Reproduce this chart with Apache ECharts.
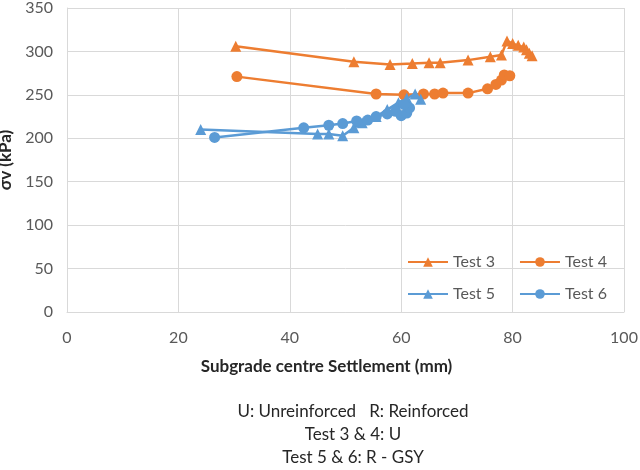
<!DOCTYPE html>
<html>
<head>
<meta charset="utf-8">
<script src="https://cdn.jsdelivr.net/npm/echarts@6/dist/echarts.min.js"></script>
<style>
  html, body { margin: 0; padding: 0; background: #fff; }
  #chart { width: 640px; height: 470px; }
</style>
</head>
<body>
<div id="chart"></div>
<script>
// Subgrade centre settlement (mm) vs vertical stress (kPa), one [x, y] pair per reading
const test3 = [[30.3,306],[51.5,288],[58,285],[62,286],[65,287],[67,287],[72,290],[76,294],[78,296],[79,312],[80,309],[81,307],[82,305],[82.5,302],[83,298],[83.5,295]];
const test4 = [[30.5,271],[55.5,251],[60.5,250],[64,251],[66,251],[67.5,252],[72,252],[75.5,257],[77,262],[78,267],[78.5,273],[79.5,272]];
const test5 = [[24,210],[45,205],[47,205],[49.5,203],[51.5,212],[53,218],[55.5,225],[57.5,233],[59.5,241],[61,246],[62.5,251],[63.5,245]];
const test6 = [[26.5,201],[42.5,212],[47,215],[49.5,217],[52,220],[54,221],[55.5,225],[57.5,228],[59,231],[60,226],[61,229],[61.5,235],[60.5,239]];

const xTicks = { min: 0, max: 100, interval: 20 };
const yTicks = { min: 0, max: 350, interval: 50 };

const seriesNames = ['Test 3', 'Test 4', 'Test 5', 'Test 6'];
const noteLines = ['U: Unreinforced   R: Reinforced', 'Test 3 & 4: U', 'Test 5 & 6: R - GSY'];

const ORANGE = '#ED7D31';
const BLUE = '#5B9BD5';
const FONT = 'Lato, "Open Sans", sans-serif';

function lineSeries(name, data, color, symbol, size) {
  return {
    name: name,
    type: 'line',
    data: data,
    color: color,
    symbol: symbol,
    symbolSize: size,
    showAllSymbol: true,
    lineStyle: { width: 2.5, color: color },
    itemStyle: { color: color },
    emphasis: { disabled: true },
    animation: false
  };
}

const legendText = { fontFamily: FONT, fontSize: 16, color: '#595959' };

const chart = echarts.init(document.getElementById('chart'), null, { renderer: 'canvas' });
chart.setOption({
  backgroundColor: '#fff',
  animation: false,
  grid: { left: 67, right: 16, top: 8, bottom: 158, containLabel: false, outerBoundsMode: 'none' },
  xAxis: {
    type: 'value',
    min: xTicks.min, max: xTicks.max, interval: xTicks.interval,
    name: 'Subgrade centre Settlement (mm)',
    nameLocation: 'middle',
    nameGap: 46,
    nameTextStyle: { fontFamily: FONT, fontSize: 17, fontWeight: 'bold', color: '#262626', padding: [0, 38, 0, 0] },
    axisLine: { show: true, lineStyle: { color: '#d9d9d9', width: 1 } },
    axisTick: { show: false },
    axisLabel: { fontFamily: FONT, fontSize: 16, color: '#595959', margin: 18 },
    splitLine: { show: true, lineStyle: { color: '#d9d9d9', width: 1 } }
  },
  yAxis: {
    type: 'value',
    min: yTicks.min, max: yTicks.max, interval: yTicks.interval,
    name: 'σv (kPa)',
    nameLocation: 'middle',
    nameGap: 41,
    nameRotate: 90,
    nameTextStyle: { fontFamily: FONT, fontSize: 17, fontWeight: 'bold', color: '#262626' },
    axisLine: { show: true, lineStyle: { color: '#d9d9d9', width: 1 } },
    axisTick: { show: false },
    axisLabel: { fontFamily: FONT, fontSize: 16, color: '#595959', margin: 14 },
    splitLine: { show: true, lineStyle: { color: '#d9d9d9', width: 1 } }
  },
  legend: [
    {
      data: [seriesNames[0], seriesNames[1]],
      left: 402, top: 249,
      itemWidth: 40, itemHeight: 12, itemGap: 24,
      textStyle: legendText
    },
    {
      data: [seriesNames[2], seriesNames[3]],
      left: 402, top: 281,
      itemWidth: 40, itemHeight: 12, itemGap: 24,
      textStyle: legendText
    }
  ],
  series: [
    lineSeries(seriesNames[0], test3, ORANGE, 'triangle', 11),
    lineSeries(seriesNames[1], test4, ORANGE, 'circle', 11),
    lineSeries(seriesNames[2], test5, BLUE, 'triangle', 11),
    lineSeries(seriesNames[3], test6, BLUE, 'circle', 11)
  ],
  graphic: noteLines.map(function (t, i) {
    return {
      type: 'text',
      x: 353,
      y: 412 + i * 23,
      style: { text: t, fontFamily: FONT, fontSize: 17, fill: '#262626', align: 'center', verticalAlign: 'middle' }
    };
  })
});
</script>
</body>
</html>
